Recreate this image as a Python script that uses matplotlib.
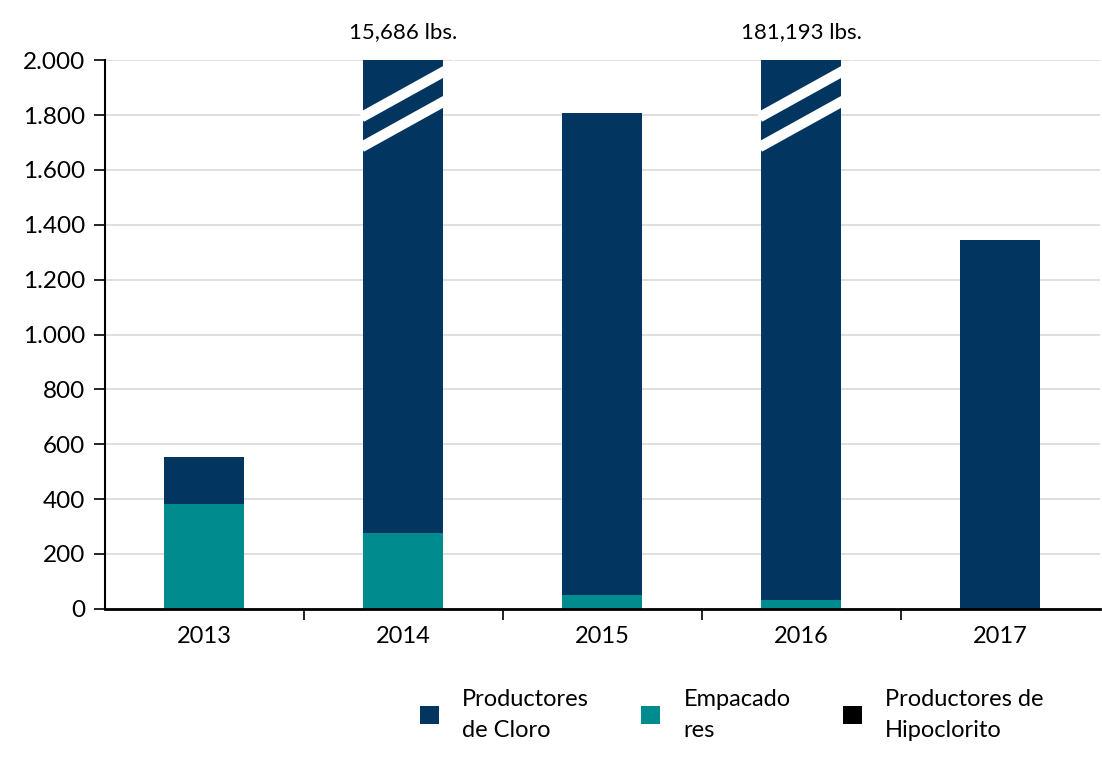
import matplotlib
matplotlib.use('Agg')
import matplotlib.pyplot as plt
import numpy as np

plt.rcParams['font.family'] = ['Lato', 'DejaVu Sans']

years = ['2013', '2014', '2015', '2016', '2017']
empacadores = [383, 277, 51, 33, 0]
cloro_total = [554, 15686, 1807, 181193, 1344]
hipoclorito = [0, 0, 0, 0, 0]
break_labels = {1: '15,686 lbs.', 3: '181,193 lbs.'}
ytick_vals = [0, 200, 400, 600, 800, 1000, 1200, 1400, 1600, 1800, 2000]
ytick_text = ['0', '200', '400', '600', '800', '1.000', '1.200', '1.400', '1.600', '1.800', '2.000']

c_cloro = '#02355f'
c_emp = '#008b8f'
c_hipo = '#000000'

cloro = [t - e for t, e in zip(cloro_total, empacadores)]
x = np.arange(len(years))

fig = plt.figure(figsize=(11.02, 7.62), dpi=100)
ax = fig.add_axes([0.095, 0.201, 0.903, 0.72])

ax.bar(x, empacadores, width=0.4, color=c_emp, label='Empacado\nres', zorder=2, linewidth=0)
ax.bar(x, cloro, width=0.4, bottom=empacadores, color=c_cloro, label='Productores\nde Cloro', zorder=2, linewidth=0)
bot2 = [a + b for a, b in zip(empacadores, cloro)]
ax.bar(x, hipoclorito, width=0.4, bottom=bot2, color=c_hipo, label='Productores de\nHipoclorito', zorder=2, linewidth=0)

ax.set_ylim(0, 2000)
ax.set_xlim(-0.5, 4.5)
ax.set_yticks(ytick_vals)
ax.set_yticklabels(ytick_text)
ax.yaxis.grid(True, color='#d9d9d9', linewidth=1.2, zorder=0)
ax.set_axisbelow(True)

ax.set_xticks(x)
ax.set_xticklabels(years)
ax.set_xticks([0.5, 1.5, 2.5, 3.5], minor=True)
ax.tick_params(axis='x', which='major', length=0, pad=12, labelsize=17)
ax.tick_params(axis='x', which='minor', length=8, width=1.2, direction='out')
ax.tick_params(axis='y', length=8, width=1.2, labelsize=17.5, pad=6)

for s in ['top', 'right']:
    ax.spines[s].set_visible(False)
ax.spines['left'].set_linewidth(1.5)
ax.spines['bottom'].set_linewidth(2)

# break marks + real totals on the clipped bars
for i, lab in break_labels.items():
    for y0, y1 in [(1683, 1876), (1792, 1985)]:
        ax.plot([i - 0.21, i + 0.27], [y0, y1], color='white', linewidth=7.5,
                solid_capstyle='butt', zorder=3, clip_on=False)
    ax.text(i, 2065, lab, ha='center', va='bottom', fontsize=16)

handles, labels = ax.get_legend_handles_labels()
order = [1, 0, 2]
leg = fig.legend([handles[k] for k in order], [labels[k] for k in order],
                 loc='center', bbox_to_anchor=(0.664, 0.062), ncol=3, frameon=False,
                 fontsize=17, handlelength=0.8, handleheight=0.8, columnspacing=2.2,
                 handletextpad=1.0)
for t in leg.get_texts():
    t.set_linespacing(1.6)

fig.savefig('out.png', dpi=100)
